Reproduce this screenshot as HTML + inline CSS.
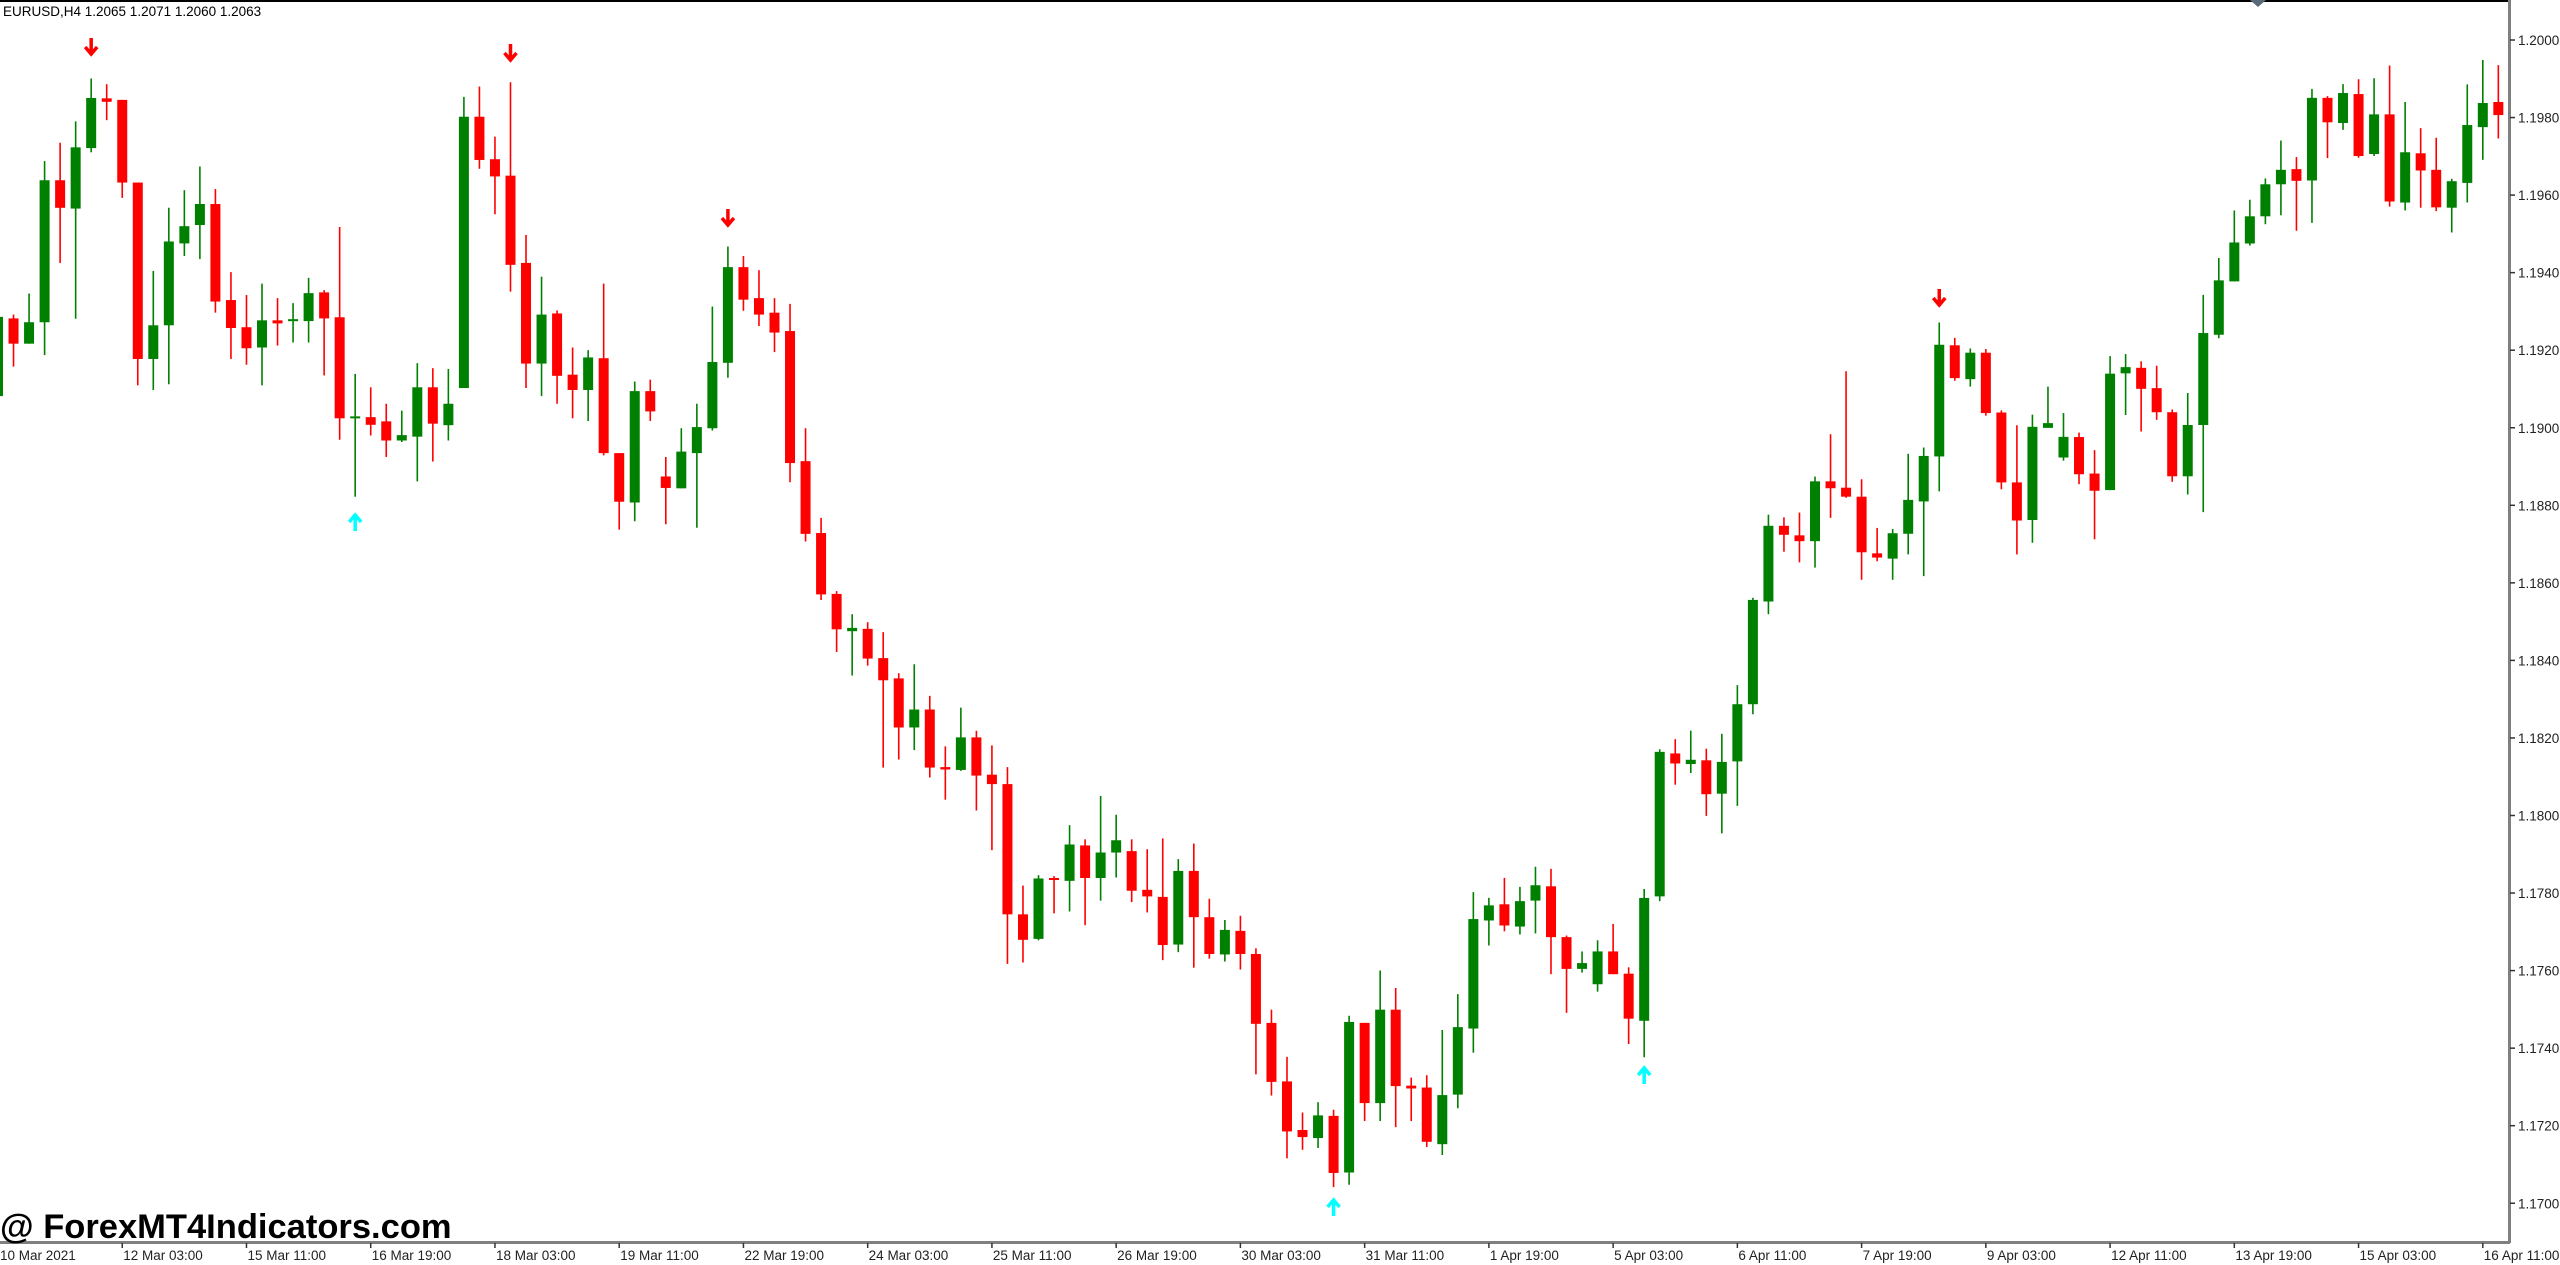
<!DOCTYPE html>
<html><head><meta charset="utf-8">
<style>
html,body{margin:0;padding:0;background:#fff;}
body{width:2560px;height:1265px;overflow:hidden;position:relative;font-family:"Liberation Sans",sans-serif;}
svg{position:absolute;left:0;top:0;}
</style></head><body>
<svg id="c" width="2560" height="1265" viewBox="0 0 2560 1265" xmlns="http://www.w3.org/2000/svg">
<rect x="0" y="0" width="2560" height="1265" fill="#fff"/>
<line x1="0" y1="1" x2="2509" y2="1" stroke="#000" stroke-width="2"/>
<line x1="2509.5" y1="0" x2="2509.5" y2="1243" stroke="#808080" stroke-width="3"/>
<line x1="0" y1="1242.5" x2="2510" y2="1242.5" stroke="#808080" stroke-width="3"/>
<polygon points="2250,0 2266,0 2258,7" fill="#5a6a7a"/>
<text x="3" y="16" font-size="13.5" fill="#000">EURUSD,H4  1.2065 1.2071 1.2060 1.2063</text>
<text x="0" y="1238" font-size="34.5" font-weight="bold" fill="#000">@ ForexMT4Indicators.com</text>
<g id="g"></g>
</svg>
<script>
var NS="http://www.w3.org/2000/svg",g=document.getElementById("g");
function el(t,a){var e=document.createElementNS(NS,t);for(var k in a)e.setAttribute(k,a[k]);g.appendChild(e);return e;}
var prices=["1.2000","1.1980","1.1960","1.1940","1.1920","1.1900","1.1880","1.1860","1.1840","1.1820","1.1800","1.1780","1.1760","1.1740","1.1720","1.1700"];
for(var k=0;k<prices.length;k++){var y=40+k*77.55;el("line",{x1:2510,y1:y,x2:2515,y2:y,stroke:"#333","stroke-width":1.5});var t=el("text",{x:2518,y:y+5,"font-size":13.5,fill:"#222"});t.textContent=prices[k];}
var tl=["10 Mar 2021","12 Mar 03:00","15 Mar 11:00","16 Mar 19:00","18 Mar 03:00","19 Mar 11:00","22 Mar 19:00","24 Mar 03:00","25 Mar 11:00","26 Mar 19:00","30 Mar 03:00","31 Mar 11:00","1 Apr 19:00","5 Apr 03:00","6 Apr 11:00","7 Apr 19:00","9 Apr 03:00","12 Apr 11:00","13 Apr 19:00","15 Apr 03:00","16 Apr 11:00"];
for(var k=0;k<tl.length;k++){var x=k==0?0:(-2+k*8*15.53);if(k>0)el("line",{x1:x,y1:1243,x2:x,y2:1248,stroke:"#333","stroke-width":1.5});var t=el("text",{x:x+(k==0?0:1),y:1260,"font-size":13.5,fill:"#222"});t.textContent=tl[k];}
var Z1=[[828,1035,800,1035,'g'],[832,898,822,958,'r'],[842,898,767,898,'g'],[471,842,421,928,'g'],[471,543,373,687,'r'],[385,545,317,833,'g'],[256,387,205,398,'g'],[257,266,220,314,'r'],[261,477,261,517,'r'],[477,938,477,1007,'r'],[850,938,708,1019,'g'],[631,850,543,1004,'g'],[591,636,497,669,'g'],[533,588,435,677,'g'],[533,788,494,817,'r'],[784,857,711,938,'r'],[855,910,771,953,'r'],[837,908,741,1007,'g'],[837,845,779,903,'r'],[834,838,792,895,'g'],[766,839,726,895,'g'],[764,832,758,981,'r'],[829,1093,593,1149,'r'],[1088,1092,977,1298,'g'],[1090,1110,1012,1138,'r'],[1101,1151,1055,1194,'r'],[1137,1151,1073,1155,'g'],[1012,1141,949,1258,'g'],[1012,1107,962,1206,'r'],[1055,1111,964,1151,'g'],[305,1014,253,1014,'g'],[305,418,226,441,'r'],[416,461,357,560,'r'],[459,692,215,762,'r'],[687,950,614,1014,'r'],[822,950,723,1035,'g'],[819,982,811,1055,'r'],[979,1019,908,1093,'r'],[934,1019,915,1100,'g'],[936,1184,741,1190,'r'],[1184,1311,1184,1384,'r'],[1022,1313,997,1362,'g'],[1022,1075,992,1100,'r'],[1245,1275,1194,1370,'r'],[1180,1276,1119,1276,'g'],[1116,1184,1055,1379,'g'],[946,1119,801,1125,'g'],[698,948,644,987,'g'],[698,783,669,812,'r'],[779,822,706,852,'r'],[817,869,779,920,'r'],[865,1210,794,1260,'r'],[1205,1395,1119,1415,'r']];
var Z4=[[70,200,38,212,'r'],[199,274,193,322,'r'],[271,278,242,372,'g'],[273,336,259,351,'r'],[335,382,280,567,'r'],[378,482,367,550,'r'],[444,482,348,530,'g'],[444,567,415,588,'r'],[566,571,522,635,'r'],[503,572,440,574,'g'],[503,584,489,658,'r'],[582,602,520,742,'r'],[602,878,566,983,'r'],[878,932,817,980,'r'],[802,930,795,933,'g'],[801,805,797,876,'r'],[730,807,689,872,'g'],[732,801,719,901,'r'],[747,801,627,849,'g'],[721,747,667,800,'g'],[744,828,719,852,'r'],[826,840,740,874,'r'],[841,943,717,975,'r'],[786,942,761,958,'g'],[786,884,728,991,'r'],[884,962,845,972,'r'],[911,963,890,978,'g'],[913,962,881,995,'r'],[962,1110,950,1217,'r'],[1108,1233,1080,1262,'r'],[1232,1338,1180,1395,'r'],[1335,1350,1298,1377,'r'],[1304,1352,1276,1373,'g'],[1305,1426,1292,1456,'r'],[1106,1425,1093,1451,'g'],[1108,1278,1108,1316,'r'],[1080,1278,997,1316,'g'],[1080,1242,1034,1329,'r'],[1241,1247,1224,1316,'r'],[1245,1360,1219,1371,'r'],[1261,1365,1123,1388,'g'],[1117,1260,1047,1289,'g'],[888,1120,831,1171,'g'],[859,891,843,944,'g']];
var Z5=[[1236,1276,1186,1287,'r'],[1230,1278,1203,1293,'g'],[1200,1229,1165,1291,'g'],[1202,1298,1169,1368,'r'],[1298,1358,1295,1441,'r'],[1347,1358,1325,1365,'g'],[1325,1387,1304,1401,'g'],[1325,1368,1273,1368,'r'],[1367,1452,1355,1500,'r'],[1224,1456,1207,1525,'g'],[948,1221,943,1230,'g'],[951,970,924,1010,'r'],[963,971,908,988,'g'],[964,1028,942,1069,'r'],[967,1027,914,1102,'g'],[858,966,822,1050,'g'],[661,858,657,877,'g'],[521,664,500,688,'g'],[521,538,505,570,'r'],[539,550,496,590,'r'],[437,550,428,600,'g'],[437,450,348,506,'r'],[449,466,229,468,'r'],[466,571,433,623,'r'],[573,581,525,588,'r'],[535,583,527,623,'g'],[472,536,385,575,'g'],[389,475,373,616,'g'],[179,390,137,456,'g'],[180,242,166,247,'r'],[194,244,186,258,'g'],[194,308,187,313,'r'],[307,439,303,452,'r'],[439,511,331,575,'r'],[334,510,311,553,'g'],[327,336,258,336,'g'],[353,392,308,398,'g']];
var Z6=[[1153,1261,1140,1290,'r'],[1259,1309,1191,1450,'r'],[969,1307,918,1307,'g'],[950,968,912,1089,'g'],[952,1013,933,1137,'r'],[1011,1081,946,1103,'r'],[1081,1267,1073,1283,'r'],[1118,1267,1025,1320,'g'],[851,1118,740,1371,'g'],[698,856,633,866,'g'],[588,701,495,701,'g'],[512,591,464,597,'g'],[419,512,402,535,'g'],[377,419,292,509,'g'],[375,409,340,554,'r'],[168,408,142,531,'g'],[168,239,163,343,'r'],[154,241,128,261,'g'],[157,337,114,342,'r'],[216,331,111,337,'g'],[216,469,74,484,'r'],[326,472,180,495,'g'],[329,379,256,487,'r'],[377,486,284,497,'r'],[410,487,403,559,'g'],[247,415,129,472,'g'],[183,253,58,348,'g'],[180,218,73,286,'r']];
var C=[];
Z1.forEach(function(d){C.push([d[0]/2.613,d[1]/2.613,d[2]/2.613,d[3]/2.613,d[4]]);});
Z4.forEach(function(d){C.push([500+d[0]/2.119,500+d[1]/2.119,500+d[2]/2.119,500+d[3]/2.119,d[4]]);});
Z5.forEach(function(d){C.push([250+d[0]/1.889,250+d[1]/1.889,250+d[2]/1.889,250+d[3]/1.889,d[4]]);});
Z6.forEach(function(d){C.push([40+d[0]/2.904,40+d[1]/2.904,40+d[2]/2.904,40+d[3]/2.904,d[4]]);});
C.forEach(function(d,i){var x=-2+i*15.53,col=d[4]=='g'?'#008000':'#ff0000';
el("line",{x1:x,y1:d[2],x2:x,y2:d[3],stroke:col,"stroke-width":1.6});
var h=Math.max(d[1]-d[0],2);el("rect",{x:x-5,y:d[0],width:10,height:h,fill:col});});
function down(i,y){var x=-2+i*15.53;el("path",{d:"M"+x+" "+y+" L"+x+" "+(y+15)+" M"+(x-6)+" "+(y+9)+" L"+x+" "+(y+16)+" L"+(x+6)+" "+(y+9),stroke:"#ff0000","stroke-width":3.5,fill:"none","stroke-linejoin":"miter"});}
function up(i,y){var x=-2+i*15.53;el("path",{d:"M"+x+" "+(y+18)+" L"+x+" "+(y+3)+" M"+(x-6)+" "+(y+9)+" L"+x+" "+(y+2)+" L"+(x+6)+" "+(y+9),stroke:"#00ffff","stroke-width":3.5,fill:"none"});}
down(6,38);down(33,44);down(47,209);down(125,289);
up(23,513);up(86,1198);up(106,1066);
</script>
</body></html>
